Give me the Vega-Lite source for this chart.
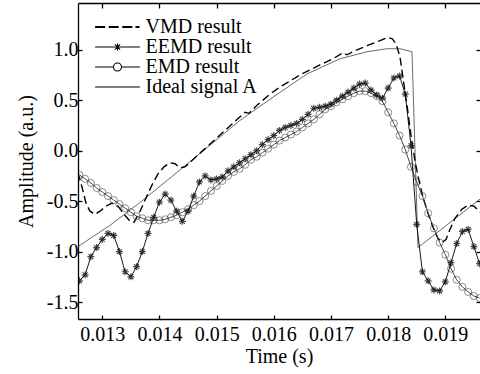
{
  "$schema": "https://vega.github.io/schema/vega-lite/v6.json",
  "width": 402,
  "height": 316,
  "autosize": "none",
  "padding": {"left": 78, "top": 3, "right": 0, "bottom": 55},
  "background": "white",
  "config": {
    "view": {"stroke": null},
    "font": "Liberation Serif",
    "axis": {
      "labelFont": "Liberation Serif", "titleFont": "Liberation Serif",
      "labelFontSize": 20, "titleFontSize": 20, "labelColor": "black", "titleColor": "black",
      "titleFontWeight": "normal", "domainColor": "black", "tickColor": "black",
      "domainWidth": 1.3, "tickWidth": 1.3, "grid": false
    }
  },
  "datasets": {
    "curves": [
      {"s":"Ideal signal A","t":0.012575,"v":-0.95},
      {"s":"Ideal signal A","t":0.013135,"v":-0.74},
      {"s":"Ideal signal A","t":0.013712,"v":-0.49},
      {"s":"Ideal signal A","t":0.014447,"v":-0.15},
      {"s":"Ideal signal A","t":0.015409,"v":0.30},
      {"s":"Ideal signal A","t":0.015986,"v":0.53},
      {"s":"Ideal signal A","t":0.016581,"v":0.76},
      {"s":"Ideal signal A","t":0.017158,"v":0.91},
      {"s":"Ideal signal A","t":0.017630,"v":0.98},
      {"s":"Ideal signal A","t":0.017980,"v":1.01},
      {"s":"Ideal signal A","t":0.018207,"v":1.01},
      {"s":"Ideal signal A","t":0.018417,"v":0.98},
      {"s":"Ideal signal A","t":0.018522,"v":-0.96},
      {"s":"Ideal signal A","t":0.019607,"v":-0.48},
      {"s":"VMD result","t":0.012575,"v":-0.22},
      {"s":"VMD result","t":0.012645,"v":-0.36},
      {"s":"VMD result","t":0.012715,"v":-0.52},
      {"s":"VMD result","t":0.012785,"v":-0.60},
      {"s":"VMD result","t":0.012872,"v":-0.63},
      {"s":"VMD result","t":0.012960,"v":-0.60},
      {"s":"VMD result","t":0.013065,"v":-0.55},
      {"s":"VMD result","t":0.013170,"v":-0.52},
      {"s":"VMD result","t":0.013275,"v":-0.55},
      {"s":"VMD result","t":0.013380,"v":-0.63},
      {"s":"VMD result","t":0.013485,"v":-0.70},
      {"s":"VMD result","t":0.013555,"v":-0.71},
      {"s":"VMD result","t":0.013660,"v":-0.60},
      {"s":"VMD result","t":0.013764,"v":-0.47},
      {"s":"VMD result","t":0.013869,"v":-0.34},
      {"s":"VMD result","t":0.013974,"v":-0.23},
      {"s":"VMD result","t":0.014079,"v":-0.16},
      {"s":"VMD result","t":0.014184,"v":-0.12},
      {"s":"VMD result","t":0.014272,"v":-0.13},
      {"s":"VMD result","t":0.014359,"v":-0.17},
      {"s":"VMD result","t":0.014447,"v":-0.16},
      {"s":"VMD result","t":0.014622,"v":-0.07},
      {"s":"VMD result","t":0.014797,"v":0.02},
      {"s":"VMD result","t":0.014971,"v":0.11},
      {"s":"VMD result","t":0.015146,"v":0.20},
      {"s":"VMD result","t":0.015321,"v":0.29},
      {"s":"VMD result","t":0.015496,"v":0.38},
      {"s":"VMD result","t":0.015566,"v":0.37},
      {"s":"VMD result","t":0.015706,"v":0.45},
      {"s":"VMD result","t":0.015933,"v":0.56},
      {"s":"VMD result","t":0.016108,"v":0.63},
      {"s":"VMD result","t":0.016283,"v":0.69},
      {"s":"VMD result","t":0.016458,"v":0.75},
      {"s":"VMD result","t":0.016633,"v":0.80},
      {"s":"VMD result","t":0.016808,"v":0.85},
      {"s":"VMD result","t":0.017035,"v":0.91},
      {"s":"VMD result","t":0.017210,"v":0.97},
      {"s":"VMD result","t":0.017280,"v":0.95},
      {"s":"VMD result","t":0.017420,"v":0.99},
      {"s":"VMD result","t":0.017630,"v":1.04},
      {"s":"VMD result","t":0.017858,"v":1.09},
      {"s":"VMD result","t":0.017980,"v":1.12},
      {"s":"VMD result","t":0.018068,"v":1.11},
      {"s":"VMD result","t":0.018138,"v":1.06},
      {"s":"VMD result","t":0.018207,"v":0.93},
      {"s":"VMD result","t":0.018260,"v":0.72},
      {"s":"VMD result","t":0.018330,"v":0.45},
      {"s":"VMD result","t":0.018400,"v":0.15},
      {"s":"VMD result","t":0.018470,"v":-0.10},
      {"s":"VMD result","t":0.018540,"v":-0.30},
      {"s":"VMD result","t":0.018610,"v":-0.46},
      {"s":"VMD result","t":0.018697,"v":-0.62},
      {"s":"VMD result","t":0.018785,"v":-0.76},
      {"s":"VMD result","t":0.018872,"v":-0.87},
      {"s":"VMD result","t":0.018942,"v":-0.91},
      {"s":"VMD result","t":0.019012,"v":-0.88},
      {"s":"VMD result","t":0.019082,"v":-0.78},
      {"s":"VMD result","t":0.019169,"v":-0.67},
      {"s":"VMD result","t":0.019292,"v":-0.58},
      {"s":"VMD result","t":0.019397,"v":-0.54},
      {"s":"VMD result","t":0.019502,"v":-0.55},
      {"s":"VMD result","t":0.019607,"v":-0.61},
      {"s":"EEMD result","t":0.0126,"v":-1.29},
      {"s":"EEMD result","t":0.0127,"v":-1.23},
      {"s":"EEMD result","t":0.0128,"v":-1.05},
      {"s":"EEMD result","t":0.0129,"v":-0.96},
      {"s":"EEMD result","t":0.0130,"v":-0.88},
      {"s":"EEMD result","t":0.0131,"v":-0.82},
      {"s":"EEMD result","t":0.0132,"v":-0.84},
      {"s":"EEMD result","t":0.0133,"v":-1.00},
      {"s":"EEMD result","t":0.0134,"v":-1.20},
      {"s":"EEMD result","t":0.0135,"v":-1.25},
      {"s":"EEMD result","t":0.0136,"v":-1.15},
      {"s":"EEMD result","t":0.0137,"v":-1.00},
      {"s":"EEMD result","t":0.0138,"v":-0.82},
      {"s":"EEMD result","t":0.0139,"v":-0.66},
      {"s":"EEMD result","t":0.0140,"v":-0.51},
      {"s":"EEMD result","t":0.0141,"v":-0.43},
      {"s":"EEMD result","t":0.0142,"v":-0.49},
      {"s":"EEMD result","t":0.0143,"v":-0.60},
      {"s":"EEMD result","t":0.0144,"v":-0.70},
      {"s":"EEMD result","t":0.0145,"v":-0.60},
      {"s":"EEMD result","t":0.0146,"v":-0.45},
      {"s":"EEMD result","t":0.0147,"v":-0.31},
      {"s":"EEMD result","t":0.0148,"v":-0.25},
      {"s":"EEMD result","t":0.0149,"v":-0.29},
      {"s":"EEMD result","t":0.0150,"v":-0.28},
      {"s":"EEMD result","t":0.0151,"v":-0.26},
      {"s":"EEMD result","t":0.0152,"v":-0.20},
      {"s":"EEMD result","t":0.0153,"v":-0.16},
      {"s":"EEMD result","t":0.0154,"v":-0.12},
      {"s":"EEMD result","t":0.0155,"v":-0.08},
      {"s":"EEMD result","t":0.0156,"v":-0.04},
      {"s":"EEMD result","t":0.0157,"v":0.00},
      {"s":"EEMD result","t":0.0158,"v":0.06},
      {"s":"EEMD result","t":0.0159,"v":0.11},
      {"s":"EEMD result","t":0.0160,"v":0.15},
      {"s":"EEMD result","t":0.0161,"v":0.20},
      {"s":"EEMD result","t":0.0162,"v":0.23},
      {"s":"EEMD result","t":0.0163,"v":0.25},
      {"s":"EEMD result","t":0.0164,"v":0.27},
      {"s":"EEMD result","t":0.0165,"v":0.31},
      {"s":"EEMD result","t":0.0166,"v":0.36},
      {"s":"EEMD result","t":0.0167,"v":0.42},
      {"s":"EEMD result","t":0.0168,"v":0.43},
      {"s":"EEMD result","t":0.0169,"v":0.44},
      {"s":"EEMD result","t":0.0170,"v":0.46},
      {"s":"EEMD result","t":0.0171,"v":0.50},
      {"s":"EEMD result","t":0.0172,"v":0.54},
      {"s":"EEMD result","t":0.0173,"v":0.58},
      {"s":"EEMD result","t":0.0174,"v":0.62},
      {"s":"EEMD result","t":0.0175,"v":0.66},
      {"s":"EEMD result","t":0.0176,"v":0.67},
      {"s":"EEMD result","t":0.0177,"v":0.60},
      {"s":"EEMD result","t":0.0178,"v":0.55},
      {"s":"EEMD result","t":0.0179,"v":0.52},
      {"s":"EEMD result","t":0.0180,"v":0.62},
      {"s":"EEMD result","t":0.0181,"v":0.72},
      {"s":"EEMD result","t":0.0182,"v":0.74},
      {"s":"EEMD result","t":0.0183,"v":0.56},
      {"s":"EEMD result","t":0.0184,"v":0.05},
      {"s":"EEMD result","t":0.0185,"v":-0.73},
      {"s":"EEMD result","t":0.0186,"v":-1.20},
      {"s":"EEMD result","t":0.0187,"v":-1.29},
      {"s":"EEMD result","t":0.0188,"v":-1.38},
      {"s":"EEMD result","t":0.0189,"v":-1.39},
      {"s":"EEMD result","t":0.0190,"v":-1.30},
      {"s":"EEMD result","t":0.0191,"v":-1.11},
      {"s":"EEMD result","t":0.0192,"v":-0.92},
      {"s":"EEMD result","t":0.0193,"v":-0.80},
      {"s":"EEMD result","t":0.0194,"v":-0.78},
      {"s":"EEMD result","t":0.0195,"v":-0.95},
      {"s":"EEMD result","t":0.0196,"v":-1.12},
      {"s":"EMD result","t":0.0126,"v":-0.24},
      {"s":"EMD result","t":0.0127,"v":-0.28},
      {"s":"EMD result","t":0.0128,"v":-0.32},
      {"s":"EMD result","t":0.0129,"v":-0.37},
      {"s":"EMD result","t":0.0130,"v":-0.41},
      {"s":"EMD result","t":0.0131,"v":-0.45},
      {"s":"EMD result","t":0.0132,"v":-0.49},
      {"s":"EMD result","t":0.0133,"v":-0.53},
      {"s":"EMD result","t":0.0134,"v":-0.57},
      {"s":"EMD result","t":0.0135,"v":-0.61},
      {"s":"EMD result","t":0.0136,"v":-0.65},
      {"s":"EMD result","t":0.0137,"v":-0.67},
      {"s":"EMD result","t":0.0138,"v":-0.69},
      {"s":"EMD result","t":0.0139,"v":-0.69},
      {"s":"EMD result","t":0.0140,"v":-0.69},
      {"s":"EMD result","t":0.0141,"v":-0.68},
      {"s":"EMD result","t":0.0142,"v":-0.66},
      {"s":"EMD result","t":0.0143,"v":-0.64},
      {"s":"EMD result","t":0.0144,"v":-0.61},
      {"s":"EMD result","t":0.0145,"v":-0.58},
      {"s":"EMD result","t":0.0146,"v":-0.54},
      {"s":"EMD result","t":0.0147,"v":-0.50},
      {"s":"EMD result","t":0.0148,"v":-0.45},
      {"s":"EMD result","t":0.0149,"v":-0.40},
      {"s":"EMD result","t":0.0150,"v":-0.35},
      {"s":"EMD result","t":0.0151,"v":-0.30},
      {"s":"EMD result","t":0.0152,"v":-0.25},
      {"s":"EMD result","t":0.0153,"v":-0.21},
      {"s":"EMD result","t":0.0154,"v":-0.18},
      {"s":"EMD result","t":0.0155,"v":-0.14},
      {"s":"EMD result","t":0.0156,"v":-0.09},
      {"s":"EMD result","t":0.0157,"v":-0.06},
      {"s":"EMD result","t":0.0158,"v":-0.02},
      {"s":"EMD result","t":0.0159,"v":0.02},
      {"s":"EMD result","t":0.0160,"v":0.06},
      {"s":"EMD result","t":0.0161,"v":0.10},
      {"s":"EMD result","t":0.0162,"v":0.13},
      {"s":"EMD result","t":0.0163,"v":0.16},
      {"s":"EMD result","t":0.0164,"v":0.19},
      {"s":"EMD result","t":0.0165,"v":0.23},
      {"s":"EMD result","t":0.0166,"v":0.27},
      {"s":"EMD result","t":0.0167,"v":0.31},
      {"s":"EMD result","t":0.0168,"v":0.36},
      {"s":"EMD result","t":0.0169,"v":0.41},
      {"s":"EMD result","t":0.0170,"v":0.44},
      {"s":"EMD result","t":0.0171,"v":0.48},
      {"s":"EMD result","t":0.0172,"v":0.51},
      {"s":"EMD result","t":0.0173,"v":0.54},
      {"s":"EMD result","t":0.0174,"v":0.57},
      {"s":"EMD result","t":0.0175,"v":0.59},
      {"s":"EMD result","t":0.0176,"v":0.59},
      {"s":"EMD result","t":0.0177,"v":0.57},
      {"s":"EMD result","t":0.0178,"v":0.54},
      {"s":"EMD result","t":0.0179,"v":0.49},
      {"s":"EMD result","t":0.0180,"v":0.38},
      {"s":"EMD result","t":0.0181,"v":0.27},
      {"s":"EMD result","t":0.0182,"v":0.15},
      {"s":"EMD result","t":0.0183,"v":0.01},
      {"s":"EMD result","t":0.0184,"v":-0.16},
      {"s":"EMD result","t":0.0185,"v":-0.31},
      {"s":"EMD result","t":0.0186,"v":-0.45},
      {"s":"EMD result","t":0.0187,"v":-0.62},
      {"s":"EMD result","t":0.0188,"v":-0.77},
      {"s":"EMD result","t":0.0189,"v":-0.91},
      {"s":"EMD result","t":0.0190,"v":-1.03},
      {"s":"EMD result","t":0.0191,"v":-1.17},
      {"s":"EMD result","t":0.0192,"v":-1.28},
      {"s":"EMD result","t":0.0193,"v":-1.35},
      {"s":"EMD result","t":0.0194,"v":-1.40},
      {"s":"EMD result","t":0.0195,"v":-1.44},
      {"s":"EMD result","t":0.0196,"v":-1.46}
    ]
  },
  "data": {"name": "curves"},
  "layer": [
    {
      "transform": [{"filter": "datum.s === 'Ideal signal A'"}],
      "mark": {"type": "line", "color": "#444", "strokeWidth": 0.8, "clip": true},
      "encoding": {
        "x": {"field": "t", "type": "quantitative",
          "scale": {"domain": [0.012575, 0.019607], "nice": false, "zero": false},
          "axis": {"orient": "bottom", "values": [0.013, 0.014, 0.015, 0.016, 0.017, 0.018, 0.019], "format": ".3f",
            "title": "Time (s)", "tickSize": -4, "labelPadding": 9, "titlePadding": 2, "labelFlush": false}},
        "y": {"field": "v", "type": "quantitative",
          "scale": {"domain": [-1.668, 1.463], "nice": false, "zero": false},
          "axis": {"orient": "left", "values": [-1.5, -1, -0.5, 0, 0.5, 1],
            "labelExpr": "replace(format(datum.value, '.1f'), '\u2212', '-')",
            "title": "Amplitude (a.u.)", "tickSize": -4, "labelPadding": 4, "titlePadding": 10, "labelFlush": false}}
      }
    },
    {
      "transform": [{"filter": "datum.s === 'VMD result'"}],
      "mark": {"type": "line", "color": "black", "strokeWidth": 1.4, "strokeDash": [8, 4], "clip": true},
      "encoding": {
        "x": {"field": "t", "type": "quantitative",
          "axis": {"orient": "top", "values": [0.013, 0.014, 0.015, 0.016, 0.017, 0.018, 0.019], "labels": false, "title": null, "tickSize": -5}},
        "y": {"field": "v", "type": "quantitative",
          "axis": {"orient": "right", "values": [-1.5, -1, -0.5, 0, 0.5, 1], "labels": false, "title": null, "domain": false, "tickSize": -4}}
      }
    },
    {
      "transform": [{"filter": "datum.s === 'EMD result'"}],
      "mark": {"type": "line", "color": "#333", "strokeWidth": 0.9, "clip": true},
      "encoding": {
        "x": {"field": "t", "type": "quantitative", "axis": null},
        "y": {"field": "v", "type": "quantitative", "axis": null}
      }
    },
    {
      "transform": [{"filter": "datum.s === 'EMD result'"}],
      "mark": {"type": "point", "shape": "circle", "filled": false, "color": "#333", "size": 50, "strokeWidth": 0.8, "clip": true},
      "encoding": {
        "x": {"field": "t", "type": "quantitative", "axis": null},
        "y": {"field": "v", "type": "quantitative", "axis": null}
      }
    },
    {
      "transform": [{"filter": "datum.s === 'EEMD result'"}],
      "mark": {"type": "line", "color": "black", "strokeWidth": 0.9, "clip": true},
      "encoding": {
        "x": {"field": "t", "type": "quantitative", "axis": null},
        "y": {"field": "v", "type": "quantitative", "axis": null}
      }
    },
    {
      "transform": [{"filter": "datum.s === 'EEMD result'"}],
      "mark": {"type": "point", "shape": "M-1,0L1,0M0,-1L0,1M-0.7,-0.7L0.7,0.7M-0.7,0.7L0.7,-0.7", "filled": false, "color": "black", "size": 49, "strokeWidth": 1.2, "clip": true},
      "encoding": {
        "x": {"field": "t", "type": "quantitative", "axis": null},
        "y": {"field": "v", "type": "quantitative", "axis": null}
      }
    },
    {
      "mark": {"type": "point", "filled": false, "color": "black", "opacity": 0},
      "encoding": {
        "x": {"field": "t", "type": "quantitative", "axis": null},
        "y": {"field": "v", "type": "quantitative", "axis": null},
        "shape": {"field": "s", "type": "nominal",
          "scale": {
            "domain": ["VMD result", "EEMD result", "EMD result", "Ideal signal A"],
            "range": [
              "M-2.8,-0.07H-1.55M-2.8,0.07H-1.55M-1.1,-0.07H0.15M-1.1,0.07H0.15M0.6,-0.07H1.85M0.6,0.07H1.85M2.25,-0.07H2.75M2.25,0.07H2.75",
              "M-2.8,0H2.8M-0.45,0H0.45M0,-0.45V0.45M-0.33,-0.33L0.33,0.33M-0.33,0.33L0.33,-0.33",
              "M-2.8,0H-0.5M0.5,0H2.8M-0.5,0A0.5,0.5,0,1,0,0.5,0A0.5,0.5,0,1,0,-0.5,0",
              "M-2.8,0H2.8"
            ]
          },
          "legend": {
            "orient": "none", "legendX": 15, "legendY": 14, "title": null,
            "labelFont": "Liberation Serif", "labelFontSize": 20, "labelColor": "black", "labelLimit": 0,
            "symbolSize": 256, "symbolStrokeWidth": 1.1, "symbolStrokeColor": "black", "symbolFillColor": "transparent",
            "symbolOpacity": 1, "symbolOffset": 14.5, "labelOffset": 18, "rowPadding": -4, "padding": 0,
            "encode": {"symbols": {"update": {"opacity": {"value": 1}}}}
          }
        }
      }
    }
  ]
}
